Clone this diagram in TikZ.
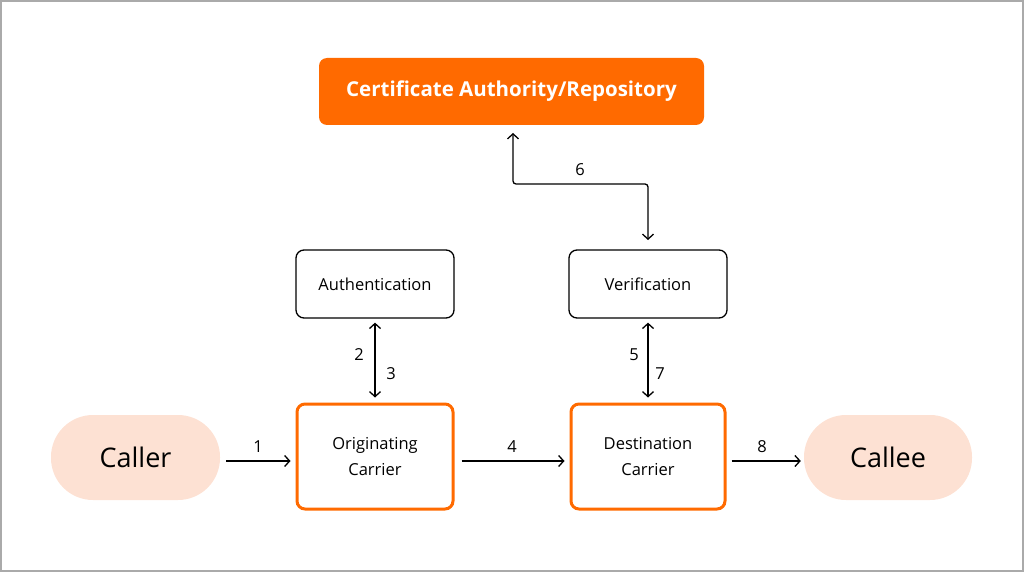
\documentclass[tikz,border=0pt]{standalone}
\usepackage{fontspec}
\setmainfont{Open Sans}
\usetikzlibrary{arrows.meta}
\definecolor{brandorange}{HTML}{FF6A00}
\definecolor{peach}{HTML}{FDE1D3}
\definecolor{framegray}{HTML}{AAAAAA}
\tikzset{
  plainbox/.style={draw=black, line width=1.3pt, rounded corners=8pt, font=\fontsize{16.5}{18}\selectfont},
  carrierbox/.style={draw=brandorange, line width=3pt, rounded corners=8pt, align=center, font=\fontsize{16.5}{26}\selectfont},
  pill/.style={fill=peach, rounded corners=42pt, font=\fontsize{27}{30}\selectfont},
  cabox/.style={fill=brandorange, rounded corners=8pt, text=white, font=\fontsize{20.5}{22}\selectfont\bfseries},
  conn/.style={line width=1.3pt, -{Straight Barb[length=5pt,width=11pt,line width=1.3pt]}},
  biconn/.style={line width=1.3pt, {Straight Barb[length=5pt,width=11pt,line width=1.3pt]}-{Straight Barb[length=5pt,width=11pt,line width=1.3pt]}},
  lbl/.style={font=\fontsize{16.5}{18}\selectfont, inner sep=0pt}
}
\begin{document}
\begin{tikzpicture}[x=1pt,y=-1pt]
\useasboundingbox (0,0) rectangle (1024,572);
\draw[framegray, line width=2pt] (1,1) rectangle (1023,571);

\node[cabox, minimum width=385pt, minimum height=67pt] (ca) at (511.5,91.5) {Certificate Authority/Repository};
\node[plainbox, minimum width=158pt, minimum height=68pt] (auth) at (375,284) {Authentication};
\node[plainbox, minimum width=158pt, minimum height=68pt] (ver) at (648,284) {Verification};
\node[carrierbox, minimum width=156pt, minimum height=105pt] (orig) at (375,456.5) {Originating\\Carrier};
\node[carrierbox, minimum width=154pt, minimum height=105pt] (dest) at (648,456.5) {Destination\\Carrier};
\node[pill, minimum width=169pt, minimum height=85pt] (caller) at (135.5,457.5) {Caller};
\node[pill, minimum width=168pt, minimum height=85pt] (callee) at (888,457.5) {Callee};

\coordinate (c6top) at (513,133);
\coordinate (c6bot) at (648,240);
\draw[conn] (caller.east) ++(6,3.5) coordinate (a1s) -- ([xshift=-5pt]orig.west |- a1s) coordinate (a1e);
\node[lbl] (l1) at (258,447) {1};
\draw[conn] ([xshift=7pt]orig.east |- a1s) -- ([xshift=-5pt]dest.west |- a1s);
\node[lbl] (l4) at (512,447) {4};
\draw[conn] ([xshift=5pt]dest.east |- a1s) -- ([xshift=-3pt]callee.west |- a1s);
\node[lbl] (l8) at (762,447) {8};

\draw[biconn] ([yshift=-4pt]auth.south) -- ([yshift=5pt]orig.north);
\node[lbl] (l2) at (359,355) {2};
\node[lbl] (l3) at (391,374) {3};
\draw[biconn] ([yshift=-4pt]ver.south) -- ([yshift=5pt]dest.north);
\node[lbl] (l5) at (634,355) {5};
\node[lbl] (l7) at (660,374) {7};

\draw[biconn, rounded corners=3pt] (c6top) -- (513,184) -- (648,184) -- (c6bot);
\node[lbl] (l6) at (580,170) {6};
\end{tikzpicture}
\end{document}
